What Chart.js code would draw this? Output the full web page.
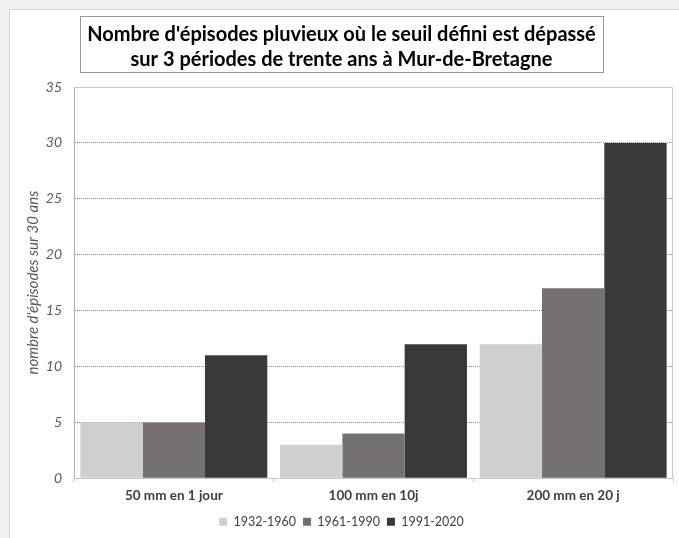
<!DOCTYPE html>
<html>
<head>
<meta charset="utf-8">
<script src="https://cdn.jsdelivr.net/npm/chart.js@4/dist/chart.umd.min.js"></script>
<style>
  html, body { margin: 0; padding: 0; background: #f0f0f0; width: 679px; height: 538px; overflow: hidden; }
  #panel { position: absolute; left: 9px; top: 9px; width: 670px; height: 529px; background: #ffffff; border-left: 1px solid #d6d6d6; border-top: 1px solid #d6d6d6; }
  #wrap { position: absolute; left: 0; top: 0; width: 669px; height: 528px; }
</style>
</head>
<body>
<div id="panel"><div id="wrap"><canvas id="c"></canvas></div></div>
<script>
const categories = ["50 mm en 1 jour", "100 mm en 10j", "200 mm en 20 j"];
const seriesNames = ["1932-1960", "1961-1990", "1991-2020"];
const values1932_1960 = [5, 3, 12];
const values1961_1990 = [5, 4, 17];
const values1991_2020 = [11, 12, 30];
const yTicks = [0, 5, 10, 15, 20, 25, 30, 35];
const titleLines = ["Nombre d'épisodes pluvieux où le seuil défini est dépassé", "sur 3 périodes de trente ans à Mur-de-Bretagne"];
const yAxisTitle = "nombre d'épisodes sur 30 ans";

const colors = ["#d0cece", "#767171", "#3b3838"];
const FONT = "Lato, 'Open Sans', sans-serif";
const TITLE_SIZE = 20;

const titleBoxPlugin = {
  id: 'titleBox',
  afterDraw(chart) {
    const tb = chart.titleBlock;
    if (!tb) return;
    const ctx = chart.ctx;
    ctx.save();
    ctx.font = "bold " + TITLE_SIZE + "px " + FONT;
    let w = 0;
    titleLines.forEach(t => { w = Math.max(w, ctx.measureText(t).width); });
    const cxT = tb.left + tb.width / 2;
    const padX = 7;
    ctx.strokeStyle = "#9a9a9a";
    ctx.lineWidth = 1;
    const top = tb.top + 6;
    const h = tb.height - 6 - 15;
    ctx.strokeRect(Math.round(cxT - w / 2 - padX) + 0.5, Math.round(top) + 0.5, Math.round(w + 2 * padX), Math.round(h));
    ctx.restore();
  }
};

const plotBorderPlugin = {
  id: 'plotBorder',
  afterDatasetsDraw(chart) {
    const a = chart.chartArea;
    const ctx = chart.ctx;
    ctx.save();
    ctx.strokeStyle = "#c8c8c8";
    ctx.lineWidth = 1;
    ctx.beginPath();
    ctx.moveTo(Math.round(a.left) + 0.5, Math.round(a.top) + 0.5);
    ctx.lineTo(Math.round(a.right) - 0.5, Math.round(a.top) + 0.5);
    ctx.lineTo(Math.round(a.right) - 0.5, Math.round(a.bottom));
    ctx.stroke();
    ctx.restore();
  }
};

new Chart(document.getElementById('c'), {
  type: 'bar',
  data: {
    labels: categories,
    datasets: [
      { label: seriesNames[0], data: values1932_1960, backgroundColor: colors[0] },
      { label: seriesNames[1], data: values1961_1990, backgroundColor: colors[1] },
      { label: seriesNames[2], data: values1991_2020, backgroundColor: colors[2] }
    ]
  },
  options: {
    responsive: true,
    maintainAspectRatio: false,
    animation: false,
    devicePixelRatio: 1,
    layout: { padding: { left: 0, right: 6, top: 0, bottom: 0 } },
    datasets: { bar: { barPercentage: 1.0, categoryPercentage: 0.936, borderWidth: 0 } },
    plugins: {
      title: {
        display: true,
        text: titleLines,
        color: "#000000",
        font: { family: FONT, size: TITLE_SIZE, weight: 'bold', lineHeight: 1.25 },
        padding: { top: 12, bottom: 15 }
      },
      legend: {
        display: true,
        position: 'bottom',
        labels: {
          color: "#404040",
          font: { family: FONT, size: 12.5 },
          boxWidth: 8,
          boxHeight: 8,
          padding: 7
        }
      },
      tooltip: { enabled: false }
    },
    scales: {
      x: {
        grid: { display: true, offset: true, drawOnChartArea: false, drawTicks: true, tickLength: 4, color: "#c8c8c8" },
        border: { display: true, color: "#c8c8c8" },
        ticks: { color: "#404040", font: { family: FONT, size: 13.5, weight: 'bold' }, padding: 5 }
      },
      y: {
        min: 0,
        max: 35,
        afterBuildTicks(scale) { scale.ticks = yTicks.map(v => ({ value: v })); },
        afterFit(scale) { scale.width = 64; },
        grid: { display: true, drawTicks: false, color: "#8c8c8c", lineWidth: 1 },
        border: { display: true, color: "#b0b0b0", dash: [1, 1] },
        ticks: { color: "#595959", font: { family: FONT, size: 14, style: 'italic' }, padding: 12 },
        title: {
          display: true,
          text: yAxisTitle,
          color: "#595959",
          font: { family: FONT, size: 15, style: 'italic' },
          padding: { top: 14, bottom: 0 }
        }
      }
    }
  },
  plugins: [titleBoxPlugin, plotBorderPlugin]
});
</script>
</body>
</html>
